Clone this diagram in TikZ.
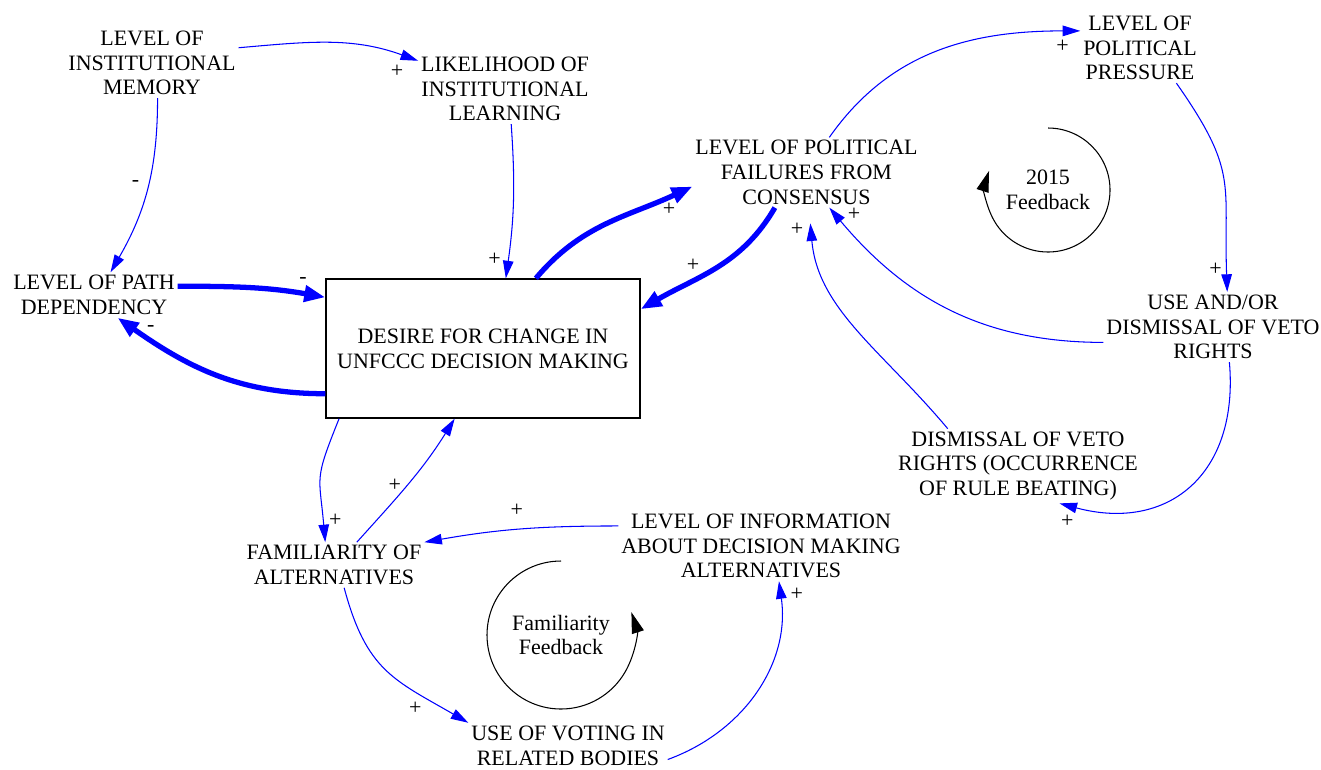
\documentclass[tikz,border=0pt]{standalone}
\usepackage{fontspec}
\setmainfont{Liberation Serif}
\usetikzlibrary{arrows.meta}

\tikzset{
  cvar/.style={align=center, inner sep=1.5pt, font=\fontsize{12.5}{14.1}\selectfont},
  plus/.style={inner sep=0pt, font=\fontsize{12.5}{14.1}\selectfont},
  link/.style={blue, line width=0.6pt, -{Triangle[length=10pt,width=6pt]}},
  major/.style={blue, line width=3pt, -{Triangle[length=12pt,width=9pt]}},
  loopline/.style={black, line width=0.6pt, -{Triangle[length=12pt,width=7pt]}}
}

\begin{document}
\begin{tikzpicture}[x=0.02cm, y=0.02cm]
\useasboundingbox (0,0) rectangle (1321,-769);

% variables
\node[cvar] (mem) at (152,-63) {LEVEL OF\\INSTITUTIONAL\\MEMORY};
\node[cvar] (learn) at (505,-89) {LIKELIHOOD OF\\INSTITUTIONAL\\LEARNING};
\node[cvar] (path) at (94,-295) {LEVEL OF PATH\\DEPENDENCY};
\node[cvar, draw, line width=0.8pt, minimum width=6.28cm, minimum height=2.78cm] (desire) at (483,-348.5) {DESIRE FOR CHANGE IN\\UNFCCC DECISION MAKING};
\node[cvar] (fail) at (806.5,-172.5) {LEVEL OF POLITICAL\\FAILURES FROM\\CONSENSUS};
\node[cvar] (press) at (1140,-48) {LEVEL OF\\POLITICAL\\PRESSURE};
\node[cvar] (use) at (1213,-327) {USE AND/OR\\DISMISSAL OF VETO\\RIGHTS};
\node[cvar] (veto) at (1018,-466) {DISMISSAL OF VETO\\RIGHTS (OCCURRENCE\\OF RULE BEATING)};
\node[cvar] (info) at (761,-546) {LEVEL OF INFORMATION\\ABOUT DECISION MAKING\\ALTERNATIVES};
\node[cvar] (fam) at (334,-565) {FAMILIARITY OF\\ALTERNATIVES};
\node[cvar] (vote) at (568,-745.5) {USE OF VOTING IN\\RELATED BODIES};

% loops
\node[cvar] (loopA) at (1048,-190) {2015\\Feedback};
\node[cvar] (loopB) at (561,-635) {Familiarity\\Feedback};
\draw[loopline] (loopA.center) ++(90:62) arc[start angle=90, end angle=-198, radius=62];
\draw[loopline] (loopB.center) ++(90:74) arc[start angle=90, end angle=378, radius=74];

% links
\draw[link] (mem.10) to[out=5,in=160] (learn.162);
\draw[link] (mem.-81) to[out=-90,in=60] (path.54);
\draw[link] (learn.-80) to[out=-86,in=82] (desire.72);
\draw[major] (path.6) to[out=0,in=170] (desire.162);
\draw[major] (desire.196) to[out=180,in=-35] (path.-44);
\draw[major] (desire.53) to[out=50,in=205] (fail.187);
\draw[major] (fail.-132) to[out=-120,in=30] (desire.14);
\draw[link] (fail.57) to[out=55,in=180] (press.164);
\draw[link] (press.-44) to[out=-55,in=92,looseness=1.3] (use.68);
\draw[link] (use.188) to[out=180,in=-50] (fail.-57);
\draw[link, shorten >=9pt] (veto.152) to[out=130,in=-85] (fail.-86);
\draw[link] (use.-65) to[out=-85,in=-15,looseness=1.3] (veto.-42);
\draw[link] (info.172) to[out=180,in=10] (fam.north east);
\draw[link] (fam.45) to[out=48,in=-122] (desire.-112);
\draw[link] (desire.-154) to[out=-112,in=95,looseness=1.4] (fam.111);
\draw[link] (fam.-66) to[out=-75,in=150,looseness=1.2] (vote.north west);
\draw[link] (vote.-8) to[out=20,in=-82] (info.-63);

% polarities
\node[plus] (s1) at (397,-71.7) {+};
\node[plus] (s2) at (135.5,-183) {-};
\node[plus] (s3) at (494.5,-259) {+};
\node[plus] (s4) at (303,-280) {-};
\node[plus] (s5) at (150.7,-328) {-};
\node[plus] (s6) at (669,-209) {+};
\node[plus] (s7) at (693,-265) {+};
\node[plus] (s8) at (1062.6,-46.7) {+};
\node[plus] (s9) at (1215.6,-269.3) {+};
\node[plus] (s10) at (854,-214.3) {+};
\node[plus] (s11) at (797,-229.3) {+};
\node[plus] (s12) at (1067.4,-521.7) {+};
\node[plus] (s13) at (516.8,-510.7) {+};
\node[plus] (s14) at (394.8,-485) {+};
\node[plus] (s15) at (335.4,-520.7) {+};
\node[plus] (s16) at (415.4,-708.3) {+};
\node[plus] (s17) at (796.8,-594.3) {+};
\end{tikzpicture}
\end{document}
